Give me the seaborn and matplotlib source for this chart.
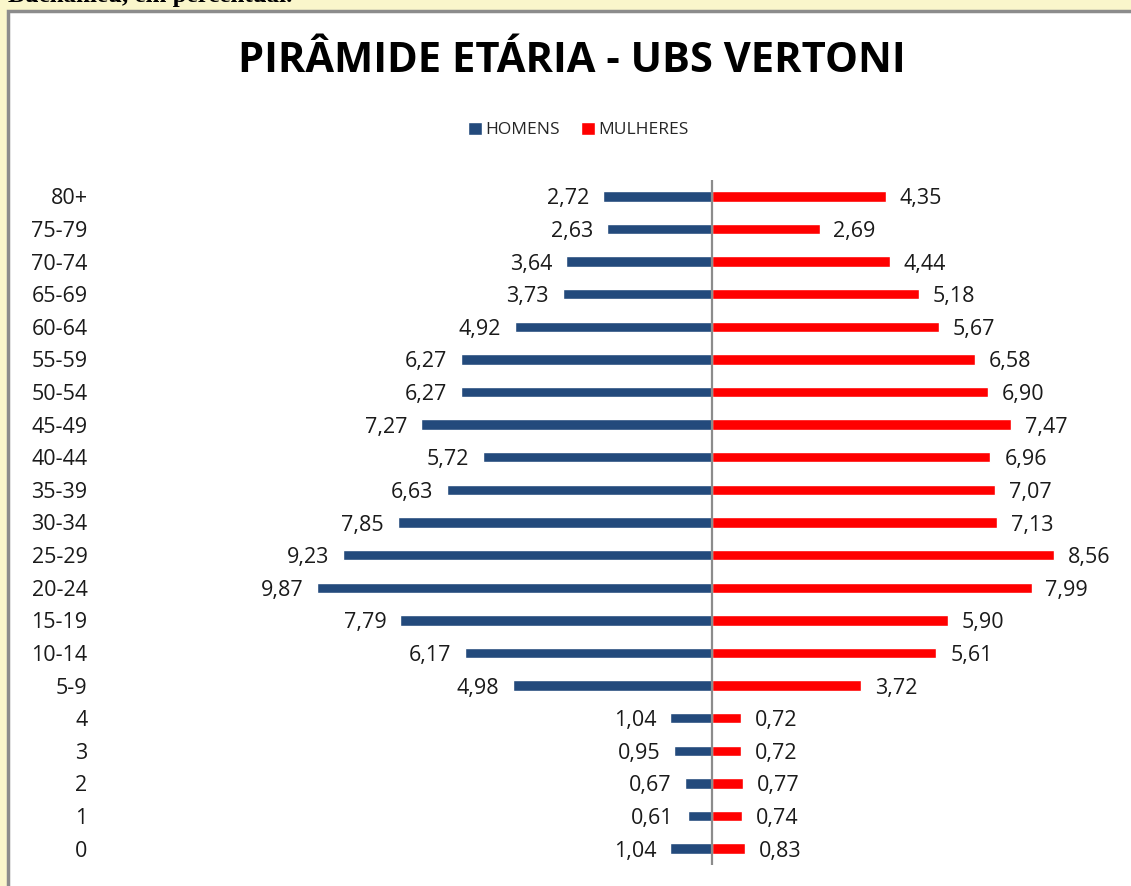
import matplotlib.pyplot as plt
import matplotlib.patches as mpatches
import seaborn as sns
import pandas as pd

# faixas etarias, de cima para baixo
idades = ['80+', '75-79', '70-74', '65-69', '60-64', '55-59', '50-54', '45-49',
          '40-44', '35-39', '30-34', '25-29', '20-24', '15-19', '10-14', '5-9',
          '4', '3', '2', '1', '0']
homens = [2.72, 2.63, 3.64, 3.73, 4.92, 6.27, 6.27, 7.27, 5.72, 6.63, 7.85,
          9.23, 9.87, 7.79, 6.17, 4.98, 1.04, 0.95, 0.67, 0.61, 1.04]
mulheres = [4.35, 2.69, 4.44, 5.18, 5.67, 6.58, 6.90, 7.47, 6.96, 7.07, 7.13,
            8.56, 7.99, 5.90, 5.61, 3.72, 0.72, 0.72, 0.77, 0.74, 0.83]
series = ['HOMENS', 'MULHERES']
cores = ['#234A7C', '#FF0000']


def fmt(v):
    return f"{v:.2f}".replace('.', ',')


def main():
    df = pd.concat([
        pd.DataFrame({'idade': idades, 'valor': [-v for v in homens], 'sexo': series[0]}),
        pd.DataFrame({'idade': idades, 'valor': mulheres, 'sexo': series[1]}),
    ])

    sns.set_style('white')
    plt.rcParams['font.family'] = ['Open Sans', 'DejaVu Sans']

    W, H = 1131, 886
    fig = plt.figure(figsize=(W / 100, H / 100), dpi=100)
    fig.patch.set_facecolor('#FAF6CB')

    # caption of the page above the chart, cut off by the screenshot edge as in the original
    fig.text(8 / W, 1 - 2 / H, 'Buchanieu, em percentual.', ha='left', va='baseline',
             fontsize=18, fontweight='bold', family='Liberation Serif', color='black')

    # white chart area with grey frame (screenshot look)
    box = mpatches.Rectangle((8 / W, -0.05), 1.1, 1 - 11 / H + 0.05, transform=fig.transFigure,
                             facecolor='white', edgecolor='#8C8C8C', linewidth=2.5, zorder=-10)
    fig.patches.append(box)

    ax = fig.add_axes([100 / W, 1 - 865 / H, (1120 - 100) / W, (865 - 180) / H])
    ax.set_facecolor('none')
    ax.patch.set_alpha(0)

    sns.barplot(data=df, x='valor', y='idade', hue='sexo', order=idades, hue_order=series,
                palette=cores, dodge=False, width=0.32, orient='h', ax=ax, saturation=1)

    for cont, vals in zip(ax.containers, [homens, mulheres]):
        anns = ax.bar_label(cont, labels=[fmt(v) for v in vals], padding=10,
                            fontsize=15.5, color='#1A1A1A')
        for a in anns:
            a.set_va('center_baseline')

    ax.axvline(0, color='#8C8C8C', linewidth=1.6, zorder=3)
    ax.set_xlim(-15.3, 10.2)
    ax.set_ylim(len(idades) - 0.5, -0.5)

    ax.set_xlabel('')
    ax.set_ylabel('')
    ax.set_xticks([])
    ax.tick_params(axis='y', length=0, pad=9, labelsize=15.5, labelcolor='#1A1A1A')
    for t in ax.get_yticklabels():
        t.set_va('center_baseline')
    sns.despine(ax=ax, left=True, bottom=True)

    ax.legend(loc='center', bbox_to_anchor=(578 / W, 1 - 130 / H), bbox_transform=fig.transFigure,
              ncol=2, frameon=False, fontsize=12.5, handlelength=0.85, handleheight=0.85,
              handletextpad=0.15, columnspacing=1.2)

    fig.text(572 / W, 1 - 62 / H, 'PIRÂMIDE ETÁRIA - UBS VERTONI', ha='center', va='center',
             fontsize=30, fontweight='bold', color='black')

    fig.savefig('out.png', dpi=100, facecolor=fig.get_facecolor())


if __name__ == "__main__":
    main()
